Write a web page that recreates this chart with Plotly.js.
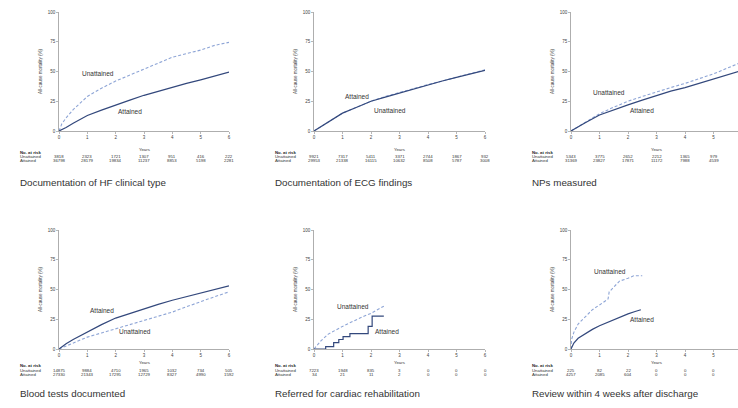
<!DOCTYPE html>
<html>
<head>
<meta charset="utf-8">
<script src="https://cdn.plot.ly/plotly-3.0.1.min.js"></script>
<style>html,body{margin:0;padding:0;background:#fff;}#chart{width:738px;height:408px;}</style>
</head>
<body>
<div id="chart"></div>
<script>
// ---------- DATA ----------
const yearTicks = [0, 1, 2, 3, 4, 5, 6];
const yTicks = [0, 25, 50, 75, 100];
const panelTitles = [
  "Documentation of HF clinical type",
  "Documentation of ECG findings",
  "NPs measured",
  "Blood tests documented",
  "Referred for cardiac rehabilitation",
  "Review within 4 weeks after discharge"
];
const groupNames = ["Unattained", "Attained"];

// Panel 1: HF clinical type
const p1Time = [0, 0.1, 0.25, 0.5, 1, 1.5, 2, 2.5, 3, 3.5, 4, 4.5, 5, 5.5, 6];
const p1Unatt = [0, 6, 11, 18, 29, 36, 42, 47, 52, 57, 62, 65, 68, 72, 74.5];
const p1Att = [0, 1.5, 3, 6.5, 13, 17.5, 22, 26, 30, 33.5, 37, 40, 43, 46, 49.5];
const p1RiskUnatt = ["3818", "2323", "1721", "1307", "951", "416", "222"];
const p1RiskAtt = ["36798", "28179", "19834", "11237", "8853", "5198", "2281"];

// Panel 2: ECG findings
const p2Time = [0, 0.1, 0.25, 0.5, 1, 1.5, 2, 2.5, 3, 3.5, 4, 4.5, 5, 5.5, 6];
const p2Unatt = [0, 1.5, 3.5, 7.5, 15, 20, 25, 29, 32.5, 36, 39, 42, 45, 48, 51.5];
const p2Att = [0, 1.5, 3.5, 7.5, 15, 20, 25, 28.5, 32, 35.5, 39, 42, 45, 48, 51];
const p2RiskUnatt = ["9921", "7317", "5411", "3371", "2744", "1867", "932"];
const p2RiskAtt = ["29953", "21338", "16115", "10632", "8508", "5787", "3008"];

// Panel 3: NPs measured
const p3Time = [0, 0.1, 0.25, 0.5, 1, 1.5, 2, 2.5, 3, 3.5, 4, 4.5, 5, 5.5, 6];
const p3Unatt = [0, 1.5, 3.5, 7.5, 14.5, 20, 25, 29, 33, 36.5, 40, 44, 48, 53, 58];
const p3Att = [0, 1.5, 3.5, 7, 13.5, 18, 22, 26, 30, 33.5, 36.5, 40, 44, 47.5, 51];
const p3RiskUnatt = ["5343", "3775", "2652", "2212", "1365", "979", "471"];
const p3RiskAtt = ["31369", "23827", "17871", "11172", "7988", "4539", "2030"];

// Panel 4: Blood tests
const p4Time = [0, 0.1, 0.25, 0.5, 1, 1.5, 2, 2.5, 3, 3.5, 4, 4.5, 5, 5.5, 6];
const p4Unatt = [0, 1, 2.5, 5.5, 10, 13.5, 17, 20.5, 24, 27.5, 31, 35.5, 40, 44, 48];
const p4Att = [0, 2, 4.5, 8, 14.5, 20.5, 26, 30, 34, 37.5, 41, 44, 47, 50, 53];
const p4RiskUnatt = ["14875", "9884", "4710", "1965", "1032", "734", "505"];
const p4RiskAtt = ["27330", "21343", "17295", "12729", "8327", "4990", "1592"];

// Panel 5: cardiac rehabilitation
const p5UnattTime = [0, 0.1, 0.25, 0.5, 0.75, 1, 1.25, 1.5, 1.75, 2, 2.25, 2.45];
const p5Unatt = [0, 3, 7, 12.5, 16, 19, 22, 25, 27.5, 30, 33, 36];
const p5AttTime = [0, 0.41, 0.69, 0.87, 1.02, 1.26, 1.9, 2.04, 2.45];
const p5Att = [0, 2, 5.3, 8, 10.4, 13, 19, 27.7, 27.7];
const p5RiskUnatt = ["7223", "1948", "835", "3", "0", "0", "0"];
const p5RiskAtt = ["34", "21", "11", "2", "0", "0", "0"];

// Panel 6: review within 4 weeks
const p6UnattTime = [0, 0.02, 0.1, 0.25, 0.5, 0.75, 1, 1.2, 1.3, 1.34, 1.5, 1.7, 2, 2.2, 2.5];
const p6Unatt = [0, 8, 14, 21, 27, 33, 37, 40, 42, 48, 52, 57, 59.5, 61.5, 61.5];
const p6AttTime = [0, 0.05, 0.1, 0.25, 0.5, 0.75, 1, 1.25, 1.5, 1.75, 2, 2.25, 2.45];
const p6Att = [0, 3, 5, 9, 13, 16.5, 19.5, 22, 25, 27.5, 29.5, 31.5, 33];
const p6RiskUnatt = ["225", "82", "22", "0", "0", "0", "0"];
const p6RiskAtt = ["4257", "2085", "604", "0", "0", "0", "0"];

// ---------- LAYOUT HELPERS ----------
const W = 738, H = 408;
const colPx = [[59, 229], [314, 485], [571, 742]];
const rowPx = [[12, 131], [230, 349]]; // top, bottom (y=100, y=0)
const unattColor = "#8ea5d6";
const attColor = "#33487c";
const FONT = "Liberation Sans, Arial, sans-serif";

const panels = [
  {time: [p1Time, p1Time], vals: [p1Unatt, p1Att], risk: [p1RiskUnatt, p1RiskAtt], shape: ["linear", "linear"],
   lab: [[1.38, 48], [2.5, 16]]},
  {time: [p2Time, p2Time], vals: [p2Unatt, p2Att], risk: [p2RiskUnatt, p2RiskAtt], shape: ["linear", "linear"],
   lab: [[2.67, 17.6], [1.5, 29.4]]},
  {time: [p3Time, p3Time], vals: [p3Unatt, p3Att], risk: [p3RiskUnatt, p3RiskAtt], shape: ["linear", "linear"],
   lab: [[1.33, 32], [2.5, 17.6]]},
  {time: [p4Time, p4Time], vals: [p4Unatt, p4Att], risk: [p4RiskUnatt, p4RiskAtt], shape: ["linear", "linear"],
   lab: [[2.68, 14.3], [1.52, 32]]},
  {time: [p5UnattTime, p5AttTime], vals: [p5Unatt, p5Att], risk: [p5RiskUnatt, p5RiskAtt], shape: ["linear", "hv"],
   lab: [[1.37, 36], [2.56, 14.3]]},
  {time: [p6UnattTime, p6AttTime], vals: [p6Unatt, p6Att], risk: [p6RiskUnatt, p6RiskAtt], shape: ["linear", "linear"],
   lab: [[1.37, 65.5], [2.5, 24.4]]}
];

const traces = [];
const layout = {
  width: W, height: H,
  margin: {l: 0, r: 0, t: 0, b: 0},
  paper_bgcolor: "#fff", plot_bgcolor: "#fff",
  showlegend: false,
  font: {family: FONT, color: "#333"},
  annotations: []
};
const py = p => 1 - p / H;

panels.forEach((p, i) => {
  const r = Math.floor(i / 3), c = i % 3;
  const n = i + 1;
  const xa = "x" + (n === 1 ? "" : n), ya = "y" + (n === 1 ? "" : n);
  const xk = "xaxis" + (n === 1 ? "" : n), yk = "yaxis" + (n === 1 ? "" : n);
  const [x0, x1] = colPx[c];
  const [top, bot] = rowPx[r];
  const pxPerYear = (x1 - x0) / 6;
  const x1c = Math.min(x1, W);
  const xmax = (x1c - x0) / pxPerYear;

  [0, 1].forEach(g => {
    traces.push({
      x: p.time[g], y: p.vals[g], xaxis: xa, yaxis: ya,
      type: "scatter", mode: "lines", hoverinfo: "skip",
      line: {color: g === 0 ? unattColor : attColor, width: g === 0 ? 1.1 : 1.2,
             dash: g === 0 ? "3px,2px" : "solid", shape: p.shape[g]}
    });
  });

  layout[xk] = {
    domain: [x0 / W, x1c / W], range: [0, xmax], anchor: ya,
    showline: true, linecolor: "#9a9a9a", linewidth: 0.8,
    ticks: "outside", ticklen: 2, tickwidth: 0.7, tickcolor: "#9a9a9a",
    tickvals: yearTicks, ticktext: yearTicks.map(String),
    tickfont: {size: 4.5, color: "#444", family: FONT},
    showgrid: false, zeroline: false, fixedrange: true
  };
  layout[yk] = {
    domain: [py(bot), py(top)], range: [0, 100], anchor: xa,
    showline: true, linecolor: "#9a9a9a", linewidth: 0.8,
    ticks: "outside", ticklen: 2, tickwidth: 0.7, tickcolor: "#9a9a9a",
    tickvals: yTicks, ticktext: yTicks.map(String),
    tickfont: {size: 4.5, color: "#444", family: FONT},
    title: {text: "All-cause mortality (%)", font: {size: 4.5, color: "#444", family: FONT}, standoff: 5},
    showgrid: false, zeroline: false, fixedrange: true
  };

  // curve labels
  [0, 1].forEach(g => {
    layout.annotations.push({
      xref: xa, yref: ya, x: p.lab[g][0], y: p.lab[g][1], text: groupNames[g],
      showarrow: false, font: {size: 6.5, color: "#333", family: FONT}
    });
  });

  // Years label
  layout.annotations.push({
    xref: xa, yref: "paper", x: 3, y: py(bot + 18), text: "Years",
    showarrow: false, font: {size: 4.3, color: "#333", family: FONT}
  });
  // risk table headers
  const lx = (x0 - 41) / W;
  layout.annotations.push({xref: "paper", yref: "paper", x: lx, y: py(bot + 21), xanchor: "left",
    text: "<b>No. at risk</b>", showarrow: false, font: {size: 4.3, color: "#222", family: FONT}});
  layout.annotations.push({xref: "paper", yref: "paper", x: lx, y: py(bot + 25.5), xanchor: "left",
    text: groupNames[0], showarrow: false, font: {size: 4.3, color: "#333", family: FONT}});
  layout.annotations.push({xref: "paper", yref: "paper", x: lx, y: py(bot + 29.5), xanchor: "left",
    text: groupNames[1], showarrow: false, font: {size: 4.3, color: "#333", family: FONT}});
  yearTicks.forEach((yr, k) => {
    if (yr > xmax) return;
    layout.annotations.push({xref: xa, yref: "paper", x: yr, y: py(bot + 25.5), text: p.risk[0][k],
      showarrow: false, font: {size: 4.3, color: "#333", family: FONT}});
    layout.annotations.push({xref: xa, yref: "paper", x: yr, y: py(bot + 29.5), text: p.risk[1][k],
      showarrow: false, font: {size: 4.3, color: "#333", family: FONT}});
  });
  // panel title
  layout.annotations.push({xref: "paper", yref: "paper", x: lx, y: py(bot + 52), xanchor: "left",
    text: panelTitles[i], showarrow: false, font: {size: 9.8, color: "#333", family: FONT}});
});

Plotly.newPlot("chart", traces, layout, {displayModeBar: false, staticPlot: true});
</script>
</body>
</html>
